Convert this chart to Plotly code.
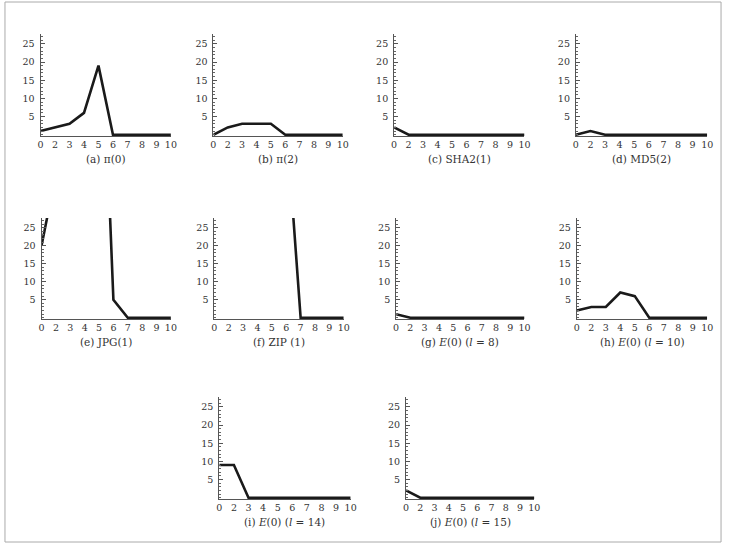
import plotly.graph_objects as go

W, H = 730, 545

x_labels = ["0", "2", "3", "4", "5", "6", "7", "8", "9", "10"]

pi0 = [1, 2, 3, 6, 19, 0, 0, 0, 0, 0]
pi2 = [0, 2, 3, 3, 3, 0, 0, 0, 0, 0]
sha2_1 = [2, 0, 0, 0, 0, 0, 0, 0, 0, 0]
md5_2 = [0, 1, 0, 0, 0, 0, 0, 0, 0, 0]
jpg_1 = [20, 40, 60, 80, 104, 5, 0, 0, 0, 0]
zip_1 = [60, 60, 60, 60, 60, 55, 0, 0, 0, 0]
e0_l8 = [1, 0, 0, 0, 0, 0, 0, 0, 0, 0]
e0_l10 = [2, 3, 3, 7, 6, 0, 0, 0, 0, 0]
e0_l14 = [9, 9, 0, 0, 0, 0, 0, 0, 0, 0]
e0_l15 = [2, 0, 0, 0, 0, 0, 0, 0, 0, 0]

captions = [
    "(a) π(0)", "(b) π(2)", "(c) SHA2(1)", "(d) MD5(2)",
    "(e) JPG(1)", "(f) ZIP (1)", "(g) <i>E</i>(0) (<i>l</i> = 8)",
    "(h) <i>E</i>(0) (<i>l</i> = 10)", "(i) <i>E</i>(0) (<i>l</i> = 14)",
    "(j) <i>E</i>(0) (<i>l</i> = 15)",
]
series = [pi0, pi2, sha2_1, md5_2, jpg_1, zip_1, e0_l8, e0_l10, e0_l14, e0_l15]

# pixel boxes (x0, x1, ytop, ybottom)
boxes = [
    (38, 170, 34, 136), (213, 344, 34, 136), (396, 528, 34, 136), (580, 713, 34, 136),
    (39, 170, 218, 319), (214, 345, 218, 319), (398, 528, 218, 319), (581, 713, 218, 319),
    (219, 352, 397, 499), (408, 538, 397, 499),
]

font_fam = "DejaVu Serif, Liberation Serif, serif"
fig = go.Figure()
xs = list(range(len(x_labels)))
for i, (vals, box, cap) in enumerate(zip(series, boxes, captions)):
    n = "" if i == 0 else str(i + 1)
    x0, x1, yt, yb = box
    fig.add_trace(go.Scatter(x=xs, y=vals, mode="lines",
                             line=dict(color="#1a1a1a", width=2.6),
                             xaxis="x" + n, yaxis="y" + n, showlegend=False,
                             hoverinfo="skip"))
    fig.layout["xaxis" + n] = dict(
        domain=[x0 / W, x1 / W], anchor="y" + n, range=[0, 9],
        tickvals=xs, ticktext=x_labels, showgrid=False, zeroline=False,
        showline=True, linecolor="#555", linewidth=1, ticks="",
        tickfont=dict(family=font_fam, size=9.5, color="#333"), fixedrange=True,
    )
    fig.layout["yaxis" + n] = dict(
        domain=[1 - yb / H, 1 - yt / H], anchor="x" + n, range=[-0.35, 27.7],
        tickvals=[5, 10, 15, 20, 25], showgrid=False, zeroline=False,
        showline=True, linecolor="#555", linewidth=1,
        ticks="inside", ticklen=4, tickwidth=1, tickcolor="#555",
        minor=dict(dtick=1, tick0=0, ticks="inside", ticklen=2, tickcolor="#666", tickwidth=1),
        ticklabelstandoff=3,
        tickfont=dict(family=font_fam, size=9.5, color="#333"), fixedrange=True,
    )
    fig.add_annotation(text=cap, xref="paper", yref="paper",
                       x=(x0 + x1) / 2 / W, y=1 - (yb + 23) / H,
                       showarrow=False, xanchor="center", yanchor="middle",
                       font=dict(family=font_fam, size=10.5, color="#333"))

fig.add_shape(type="rect", xref="paper", yref="paper",
              x0=2 / W, x1=727 / W, y0=1 - 542 / H, y1=1 - 2 / H,
              line=dict(color="#aaa", width=1))

fig.update_layout(width=W, height=H, margin=dict(l=0, r=0, t=0, b=0),
                  paper_bgcolor="white", plot_bgcolor="white")

fig.write_html("out.html")
